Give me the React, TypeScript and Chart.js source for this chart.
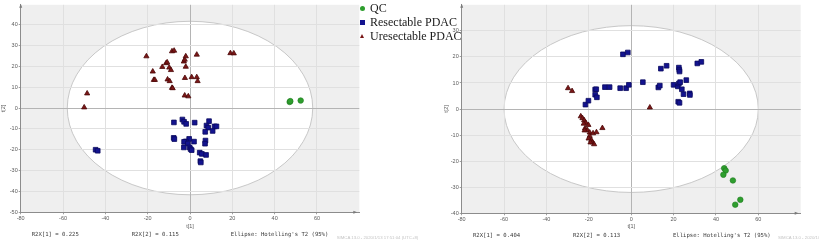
import React, { useEffect, useRef } from 'react';
import { Chart, registerables } from 'chart.js';

Chart.register(...registerables);

// ---------- data ----------
const seriesLabels = ['QC', 'Resectable PDAC', 'Uresectable PDAC'];

const xTickValues = [-80, -60, -40, -20, 0, 20, 40, 60];
const leftYTickValues = [-50, -40, -30, -20, -10, 0, 10, 20, 30, 40];
const rightYTickValues = [-40, -30, -20, -10, 0, 10, 20, 30];

const xRange = [-80, 80];
const leftYRange = [-50, 49.5];
const rightYRange = [-40, 40];

// Hotelling's T2 (95%) ellipse semi-axes [t1, t2]
const leftEllipseAxes = [58, 41.6];
const rightEllipseAxes = [60, 32];

const leftQC = [
  { x: 47.1, y: 2.9 }, { x: 47.4, y: 3.3 }, { x: 52.3, y: 3.6 },
];
const leftResectable = [
  { x: -44.6, y: -20.0 }, { x: -43.6, y: -20.5 }, { x: -7.6, y: -6.9 }, { x: -3.6, y: -5.5 },
  { x: -2.8, y: -6.6 }, { x: -1.8, y: -7.6 }, { x: 2.2, y: -7.0 }, { x: 9.0, y: -6.3 },
  { x: 7.8, y: -8.4 }, { x: 8.6, y: -9.4 }, { x: 11.6, y: -8.8 }, { x: 12.5, y: -8.8 },
  { x: 7.2, y: -11.4 }, { x: 10.7, y: -11.0 }, { x: -7.7, y: -14.3 }, { x: -7.4, y: -14.9 },
  { x: -0.4, y: -14.8 }, { x: -2.0, y: -16.0 }, { x: -2.8, y: -16.2 }, { x: 1.9, y: -16.1 },
  { x: -1.0, y: -17.0 }, { x: -2.9, y: -18.9 }, { x: -0.2, y: -18.9 }, { x: 0.3, y: -19.7 },
  { x: 0.8, y: -20.2 }, { x: 7.3, y: -15.6 }, { x: 7.1, y: -17.1 }, { x: 4.6, y: -21.4 },
  { x: 5.6, y: -22.0 }, { x: 7.6, y: -22.5 }, { x: 4.9, y: -25.5 }, { x: 5.1, y: -26.1 },
];
const leftUnresectable = [
  { x: -50.0, y: 0.3 }, { x: -48.6, y: 7.0 }, { x: -20.6, y: 24.8 }, { x: -17.6, y: 17.5 },
  { x: -17.1, y: 13.5 }, { x: -16.6, y: 13.5 }, { x: -13.1, y: 19.7 }, { x: -11.3, y: 21.5 },
  { x: -10.8, y: 21.9 }, { x: -9.8, y: 19.4 }, { x: -9.0, y: 18.2 }, { x: -10.6, y: 13.7 },
  { x: -9.6, y: 12.9 }, { x: -8.5, y: 9.7 }, { x: -8.2, y: 9.5 }, { x: -8.5, y: 27.2 },
  { x: -7.5, y: 27.5 }, { x: -2.9, y: 22.3 }, { x: -2.5, y: 23.2 }, { x: -2.0, y: 24.8 },
  { x: -2.0, y: 19.8 }, { x: -2.4, y: 14.4 }, { x: -2.5, y: 6.0 }, { x: -0.8, y: 5.6 },
  { x: 0.8, y: 14.8 }, { x: 3.2, y: 25.6 }, { x: 3.2, y: 14.8 }, { x: 3.6, y: 12.9 },
  { x: 19.1, y: 26.3 }, { x: 20.7, y: 26.2 },
];

const rightQC = [
  { x: 43.9, y: -22.7 }, { x: 44.6, y: -23.6 }, { x: 43.5, y: -25.2 },
  { x: 48.0, y: -27.4 }, { x: 51.5, y: -34.8 }, { x: 49.1, y: -36.7 },
];
const rightResectable = [
  { x: -3.9, y: 21.0 }, { x: -1.6, y: 21.7 }, { x: -21.6, y: 1.7 }, { x: -20.2, y: 3.2 },
  { x: -17.0, y: 7.5 }, { x: -16.5, y: 7.6 }, { x: -17.0, y: 5.5 }, { x: -16.2, y: 4.5 },
  { x: -12.4, y: 8.4 }, { x: -10.2, y: 8.4 }, { x: -5.2, y: 8.0 }, { x: -2.4, y: 8.0 },
  { x: -1.1, y: 9.3 }, { x: 5.5, y: 10.3 }, { x: 14.0, y: 15.5 }, { x: 16.7, y: 16.6 },
  { x: 12.8, y: 8.3 }, { x: 13.5, y: 9.0 }, { x: 20.0, y: 9.3 }, { x: 22.0, y: 8.7 },
  { x: 22.5, y: 9.8 }, { x: 22.5, y: 15.9 }, { x: 22.7, y: 15.0 }, { x: 22.8, y: 14.4 },
  { x: 23.1, y: 10.3 }, { x: 23.9, y: 7.6 }, { x: 24.7, y: 5.7 }, { x: 26.0, y: 11.1 },
  { x: 22.2, y: 2.8 }, { x: 22.8, y: 2.4 }, { x: 27.6, y: 6.0 }, { x: 27.7, y: 5.4 },
  { x: 31.2, y: 17.5 }, { x: 33.1, y: 18.1 },
];
const rightUnresectable = [
  { x: -29.8, y: 8.0 }, { x: -27.9, y: 6.9 }, { x: 8.8, y: 0.6 },
  { x: -23.8, y: -2.8 }, { x: -23.0, y: -3.5 }, { x: -22.2, y: -4.3 }, { x: -21.4, y: -5.3 },
  { x: -22.4, y: -5.6 }, { x: -20.2, y: -6.1 }, { x: -21.8, y: -7.4 }, { x: -20.7, y: -8.1 },
  { x: -22.0, y: -8.2 }, { x: -19.6, y: -9.0 }, { x: -18.0, y: -9.3 }, { x: -16.4, y: -8.9 },
  { x: -13.6, y: -7.3 }, { x: -19.6, y: -10.3 }, { x: -20.1, y: -11.3 }, { x: -18.8, y: -11.9 },
  { x: -18.3, y: -12.8 }, { x: -17.5, y: -13.5 }, { x: -19.2, y: -12.8 },
];

const leftStats = ['R2X[1] = 0.225', 'R2X[2] = 0.115', "Ellipse: Hotelling's T2 (95%)"];
const rightStats = ['R2X[1] = 0.404', 'R2X[2] = 0.113', "Ellipse: Hotelling's T2 (95%)"];
const watermarkText = 'SIMCA 13.0 - 2020/1/13 17:51:04 (UTC+8)';
const xTitle = 't[1]';
const yTitle = 't[2]';

// ---------- styles ----------
const COLORS = {
  qc: '#2e9e2e',
  qcBorder: '#1f7a1f',
  res: '#13138f',
  resBorder: '#0a0a5e',
  unres: '#7a1616',
  unresBorder: '#4a0808',
  plotBg: '#efefef',
  ellipse: '#c8c8c8',
  grid: '#e0e0e0',
  zero: '#b4b4b4',
  axis: '#8c8c8c',
  tick: '#5a5a5a',
};
const SANS = '"Liberation Sans", Arial, sans-serif';
const MONO = '"DejaVu Sans Mono", monospace';
const H = 246;

const ellipsePlugin = {
  id: 'ellipseBg',
  beforeDraw(chart: any, _args: any, opts: any) {
    const { ctx, chartArea, scales } = chart;
    const xs = scales.x;
    const ys = scales.y;
    ctx.save();
    ctx.fillStyle = COLORS.plotBg;
    ctx.fillRect(chartArea.left, chartArea.top, chartArea.right - chartArea.left, chartArea.bottom - chartArea.top);
    const cx = xs.getPixelForValue(0);
    const cy = ys.getPixelForValue(0);
    const rx = xs.getPixelForValue(opts.a) - cx;
    const ry = cy - ys.getPixelForValue(opts.b);
    ctx.beginPath();
    ctx.ellipse(cx, cy, rx, ry, 0, 0, Math.PI * 2);
    ctx.fillStyle = '#ffffff';
    ctx.fill();
    ctx.lineWidth = 1;
    ctx.strokeStyle = COLORS.ellipse;
    ctx.stroke();
    ctx.restore();
  },
  afterDraw(chart: any) {
    const { ctx, chartArea } = chart;
    ctx.save();
    ctx.fillStyle = '#7a7a7a';
    ctx.beginPath();
    ctx.moveTo(chartArea.left, chartArea.top - 1);
    ctx.lineTo(chartArea.left - 1.5, chartArea.top + 3);
    ctx.lineTo(chartArea.left + 1.5, chartArea.top + 3);
    ctx.closePath();
    ctx.fill();
    const ax = chartArea.right - 3;
    ctx.beginPath();
    ctx.moveTo(ax + 1, chartArea.bottom);
    ctx.lineTo(ax - 3, chartArea.bottom - 1.5);
    ctx.lineTo(ax - 3, chartArea.bottom + 1.5);
    ctx.closePath();
    ctx.fill();
    ctx.restore();
  },
};

type Panel = {
  yTicks: number[];
  yRange: number[];
  ellipse: number[];
  qc: { x: number; y: number }[];
  res: { x: number; y: number }[];
  unres: { x: number; y: number }[];
  yWidth: number;
  padRight: number;
  top: number;
  bottom: number;
  yTitlePad: number;
};

function buildConfig(p: Panel): any {
  const tickFont = { size: 5.5, family: SANS };
  const gridColor = (c: any) => (c.tick && c.tick.value === 0 ? COLORS.zero : COLORS.grid);
  return {
    type: 'scatter',
    data: {
      datasets: [
        {
          label: seriesLabels[2], data: p.unres, pointStyle: 'triangle', pointRadius: 3,
          backgroundColor: COLORS.unres, borderColor: COLORS.unresBorder, borderWidth: 0.8,
        },
        {
          label: seriesLabels[1], data: p.res, pointStyle: 'rect', pointRadius: 3.3,
          backgroundColor: COLORS.res, borderColor: COLORS.resBorder, borderWidth: 0.8,
        },
        {
          label: seriesLabels[0], data: p.qc, pointStyle: 'circle', pointRadius: 2.8,
          backgroundColor: COLORS.qc, borderColor: COLORS.qcBorder, borderWidth: 0.6,
        },
      ],
    },
    options: {
      animation: false,
      responsive: false,
      devicePixelRatio: 1,
      layout: { padding: { left: 0, right: p.padRight, top: p.top, bottom: 0 } },
      plugins: {
        legend: { display: false },
        tooltip: { enabled: false },
        ellipseBg: { a: p.ellipse[0], b: p.ellipse[1] },
      },
      scales: {
        x: {
          type: 'linear',
          min: xRange[0],
          max: xRange[1],
          afterBuildTicks: (s: any) => { s.ticks = xTickValues.map((v) => ({ value: v })); },
          afterFit: (s: any) => { s.height = H - p.bottom; s.paddingLeft = 0; s.paddingRight = 0; },
          grid: { color: gridColor, tickLength: 2, tickColor: '#a0a0a0', lineWidth: 1 },
          border: { display: true, color: COLORS.axis, width: 1 },
          ticks: { font: tickFont, color: COLORS.tick, padding: 1.2, maxRotation: 0, autoSkip: false },
          title: { display: true, text: xTitle, font: tickFont, color: COLORS.tick, padding: { top: 0, bottom: 16.7 } },
        },
        y: {
          type: 'linear',
          min: p.yRange[0],
          max: p.yRange[1],
          afterBuildTicks: (s: any) => { s.ticks = p.yTicks.map((v) => ({ value: v })); },
          afterFit: (s: any) => { s.width = p.yWidth; s.paddingTop = 0; s.paddingBottom = 0; },
          grid: { color: gridColor, tickLength: 2, tickColor: '#a0a0a0', lineWidth: 1 },
          border: { display: true, color: COLORS.axis, width: 1 },
          ticks: { font: tickFont, color: COLORS.tick, padding: 1, autoSkip: false },
          title: { display: true, text: yTitle, font: tickFont, color: COLORS.tick, padding: { top: p.yTitlePad, bottom: 0 } },
        },
      },
    },
    plugins: [ellipsePlugin],
  };
}

const leftPanel: Panel = {
  yTicks: leftYTickValues, yRange: leftYRange, ellipse: leftEllipseAxes,
  qc: leftQC, res: leftResectable, unres: leftUnresectable,
  yWidth: 20.7, padRight: 50.7, top: 3.3, bottom: 212.3, yTitlePad: 0.4,
};
const rightPanel: Panel = {
  yTicks: rightYTickValues, yRange: rightYRange, ellipse: rightEllipseAxes,
  qc: rightQC, res: rightResectable, unres: rightUnresectable,
  yWidth: 51.7, padRight: 18.3, top: 3.3, bottom: 213.3, yTitlePad: 33.6,
};

function StatText({ text, left, top }: { text: string; left: number; top: number }) {
  return (
    <div style={{ position: 'absolute', left, top, font: `5.6px ${MONO}`, lineHeight: '7px', color: '#3a3a3a', whiteSpace: 'pre' }}>
      {text}
    </div>
  );
}

function LegendMarker({ kind }: { kind: number }) {
  const base: React.CSSProperties = { position: 'absolute', left: 0, top: 0 };
  if (kind === 0) {
    return <span style={{ ...base, left: -2.5, top: -2.5, width: 5, height: 5, borderRadius: '50%', background: COLORS.qc }} />;
  }
  if (kind === 1) {
    return <span style={{ ...base, left: -2.3, top: -2.3, width: 4.6, height: 4.6, background: COLORS.res }} />;
  }
  return (
    <span style={{ ...base, left: -2.5, top: -2.6, width: 0, height: 0, borderLeft: '2.5px solid transparent', borderRight: '2.5px solid transparent', borderBottom: `4.5px solid ${COLORS.unres}` }} />
  );
}

export default function App() {
  const leftRef = useRef<HTMLCanvasElement>(null);
  const rightRef = useRef<HTMLCanvasElement>(null);

  useEffect(() => {
    const c1 = new Chart(leftRef.current as HTMLCanvasElement, buildConfig(leftPanel));
    const c2 = new Chart(rightRef.current as HTMLCanvasElement, buildConfig(rightPanel));
    return () => { c1.destroy(); c2.destroy(); };
  }, []);

  const legendRows = [8.3, 22.3, 36.1];

  return (
    <div style={{ position: 'absolute', left: 0, top: 0, width: 819, height: H, overflow: 'hidden', background: '#ffffff' }}>
      <canvas ref={leftRef} width={410} height={H} style={{ position: 'absolute', left: 0, top: 0, width: 410, height: H }} />
      <canvas ref={rightRef} width={409} height={H} style={{ position: 'absolute', left: 410, top: 0, width: 409, height: H }} />

      <StatText text={leftStats[0]} left={31.7} top={231} />
      <StatText text={leftStats[1]} left={131.7} top={231} />
      <StatText text={leftStats[2]} left={230.7} top={231} />
      <StatText text={rightStats[0]} left={473} top={232} />
      <StatText text={rightStats[1]} left={573} top={232} />
      <StatText text={rightStats[2]} left={673} top={232} />

      <div style={{ position: 'absolute', left: 336.7, top: 234.5, font: `4.3px ${SANS}`, lineHeight: '5px', color: '#c4c4c4', whiteSpace: 'pre' }}>{watermarkText}</div>
      <div style={{ position: 'absolute', left: 778, top: 235, font: `4.3px ${SANS}`, lineHeight: '5px', color: '#c4c4c4', whiteSpace: 'pre' }}>{watermarkText}</div>

      {seriesLabels.map((label, i) => (
        <div key={label} style={{ position: 'absolute', left: 362.3, top: legendRows[i] }}>
          <LegendMarker kind={i} />
          <div style={{ position: 'absolute', left: 7.7, top: -7.5, font: `12px "Liberation Serif", "Times New Roman", serif`, lineHeight: '14px', color: '#1a1a1a', whiteSpace: 'pre' }}>
            {label}
          </div>
        </div>
      ))}
    </div>
  );
}
